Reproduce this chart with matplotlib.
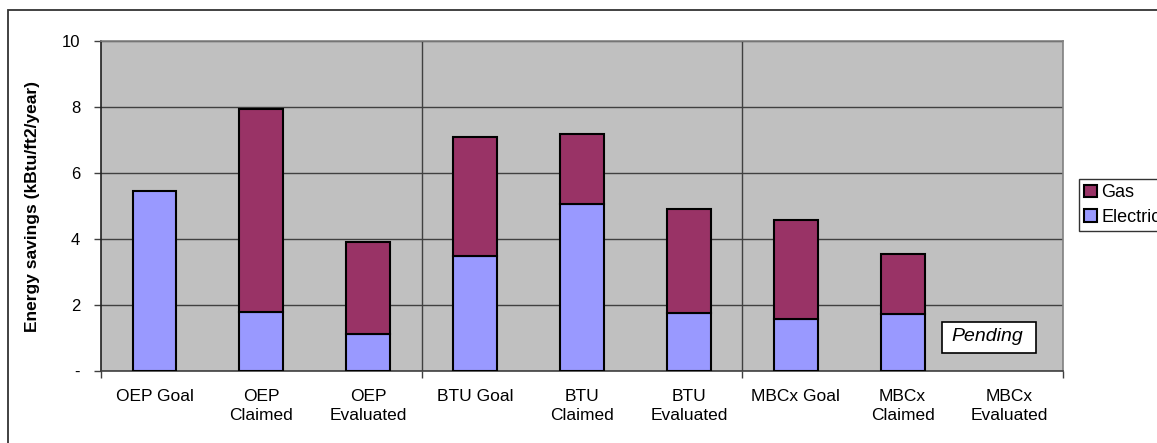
import numpy as np
import matplotlib
matplotlib.use("Agg")
from matplotlib import pyplot as plt
from matplotlib.patches import Rectangle

plt.rcParams['font.family'] = ['Liberation Sans', 'DejaVu Sans']

categories = ["OEP Goal", "OEP\nClaimed", "OEP\nEvaluated",
              "BTU Goal", "BTU\nClaimed", "BTU\nEvaluated",
              "MBCx Goal", "MBCx\nClaimed", "MBCx\nEvaluated"]
electric = [5.45, 1.79, 1.13, 3.50, 5.07, 1.77, 1.58, 1.72, 0.0]
gas = [0.0, 6.14, 2.77, 3.59, 2.11, 3.14, 2.99, 1.83, 0.0]
yticks = [0, 2, 4, 6, 8, 10]
ytick_labels = ["-", "2", "4", "6", "8", "10"]

W, H = 1157, 443
fig = plt.figure(figsize=(W / 100, H / 100), dpi=100)
ax = fig.add_axes([101 / W, 1 - 371 / H, 962 / W, 330 / H])
ax.set_facecolor("#C0C0C0")

x = np.arange(len(categories))
elec = np.array(electric)
g = np.array(gas)
bw = 0.41

# draw only non-empty segments
m = elec > 0
ax.bar(x[m], elec[m], bw, color="#9999FF", edgecolor="black", linewidth=1.5,
       label="Electric", zorder=3)
m = g > 0
ax.bar(x[m], g[m], bw, bottom=elec[m], color="#993366", edgecolor="black",
       linewidth=1.5, label="Gas", zorder=3)

ax.set_xlim(-0.5, len(categories) - 0.5)
ax.set_ylim(0, 10)
ax.set_yticks(yticks)
ax.set_yticklabels(ytick_labels, fontsize=12)
ax.set_xticks(x)
ax.set_xticklabels(categories, fontsize=12.5, linespacing=1.35)
ax.tick_params(axis="x", which="major", length=0, pad=13)
ax.set_xticks([-0.5, 2.5, 5.5, 8.5], minor=True)
ax.tick_params(axis="x", which="minor", length=5, width=1, color="#404040")
ax.tick_params(axis="y", length=5, width=1, color="#404040", pad=10)

ax.yaxis.grid(True, color="#404040", linewidth=1, zorder=1)
ax.set_axisbelow(True)
for xs in (2.5, 5.5):
    ax.axvline(xs, color="#404040", linewidth=1, zorder=1)

for side in ("top", "right"):
    ax.spines[side].set_color("#808080")
ax.spines["left"].set_color("#202020")
ax.spines["bottom"].set_color("#404040")
for s in ax.spines.values():
    s.set_linewidth(1.2)

ax.set_ylabel("Energy savings (kBtu/ft2/year)", fontsize=12.5, fontweight="bold")
ax.yaxis.set_label_coords((40 - 101) / 962, 0.5)

# "Pending" note in the empty MBCx Evaluated slot
ax.add_patch(Rectangle((7.367, 0.545), 0.879, 0.94, facecolor="white",
                       edgecolor="black", linewidth=1.2, zorder=4))
ax.text(7.79, 1.04, "Pending", fontsize=14, style="italic", ha="center",
        va="center", zorder=5)

handles, labels = ax.get_legend_handles_labels()
leg = fig.legend(handles[::-1], labels[::-1], loc="upper left",
                 bbox_to_anchor=(1079 / W, 1 - 179 / H), fontsize=13,
                 frameon=True, fancybox=False, borderaxespad=0,
                 handlelength=0.7, handleheight=0.7, handletextpad=0.25,
                 borderpad=0.3, labelspacing=0.4)
leg.get_frame().set_edgecolor("black")
leg.get_frame().set_linewidth(1)

# outer chart frame, running off the image on the right and bottom
fig.patches.append(Rectangle((7.5 / W, -0.1), 1.2, 1 - 9.5 / H + 0.1,
                             transform=fig.transFigure, fill=False,
                             edgecolor="#333333", linewidth=1.3))

fig.savefig("out.png", dpi=100)
